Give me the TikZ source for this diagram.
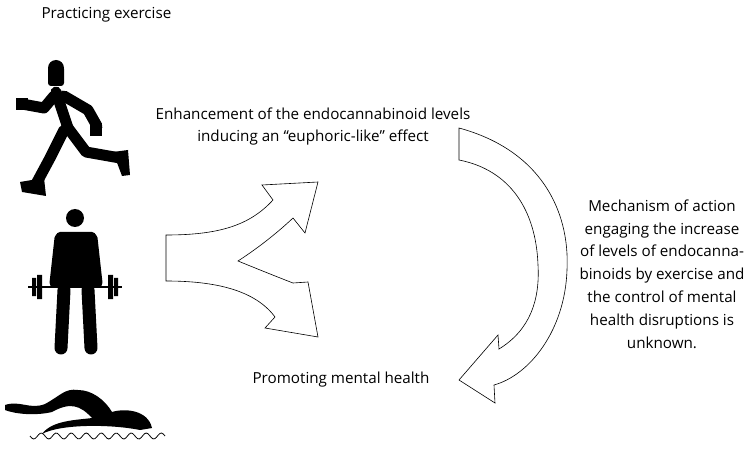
\documentclass[tikz,border=0pt]{standalone}
\usepackage{fontspec}
\setmainfont{Open Sans}
\begin{document}
\begin{tikzpicture}[x=1pt,y=-1pt,every node/.style={font=\fontsize{15.2}{22}\selectfont},
  limb/.style={line width=11pt,line cap=round,line join=round},
  bigarrow/.style={draw=black,line width=0.6pt,fill=white}]
\useasboundingbox (0,0) rectangle (750,449);
% texts
\node[anchor=west] (title) at (38,15) {Practicing exercise};
\node[align=center] (enh) at (313,127) {Enhancement of the endocannabinoid levels\\inducing an ``euphoric-like'' effect};
\node (prom) at (341,380) {Promoting mental health};
\node[align=center,font=\fontsize{15.2}{22.8}\selectfont] (mech) at (662,274) {Mechanism of action\\engaging the increase\\of levels of endocanna-\\binoids by exercise and\\the control of mental\\health disruptions is\\unknown.};
% runner
\fill[rounded corners=3pt] (48,66) rectangle (64,86);
\fill (56,68) circle (8);
\draw[limb] (56,92) -- (68,128);
\draw[limb] (54,96) -- (44,108) -- (22,104);
\fill (16,98) rectangle (28,110);
\draw[limb] (64,96) -- (88,110) -- (97,126);
\fill (90,124) rectangle (102,136);
\draw[limb] (68,128) -- (86,152) -- (120,158);
\fill (113,152) -- (128,150) -- (130,175) -- (122,176) -- cycle;
\draw[limb] (64,130) -- (50,158) -- (36,184);
\fill (20,182) -- (44,178) -- (46,196) -- (22,192) -- cycle;
% lifter
\fill (75,218) circle (9);
\fill[rounded corners=4pt] (56,232) rectangle (96,288);
\draw[limb,line width=9pt] (59,238) -- (54,283);
\draw[limb,line width=9pt] (93,238) -- (98,283);
\draw[limb,line width=13pt] (64,290) -- (61,348);
\draw[limb,line width=13pt] (88,290) -- (91,348);
\draw[line width=2pt] (28,287) -- (122,287);
\fill (32,278) rectangle (36,296) (37,275) rectangle (42,299);
\fill (114,278) rectangle (118,296) (108,275) rectangle (113,299);
% swimmer
\fill (5,405) .. controls (20,400) and (30,410) .. (45,404)
  .. controls (60,396) and (65,388) .. (78,390)
  .. controls (92,390) and (105,400) .. (112,412)
  .. controls (125,408) and (148,410) .. (152,428)
  -- (140,430) .. controls (110,424) and (60,424) .. (42,434)
  .. controls (52,420) and (78,420) .. (92,418)
  .. controls (80,405) and (70,402) .. (52,412)
  .. controls (35,416) and (15,414) .. (5,410) -- cycle;
\draw[line width=0.8pt,domain=30:165,samples=80,variable=\t] plot (\t,{436+3*sin(\t*24)});
% split arrow
\draw[bigarrow] (166,235) .. controls (220,235) and (250,225) .. (273,200)
  -- (262,185) -- (318,182) -- (305,233) -- (293,218)
  .. controls (275,235) and (255,250) .. (238,261)
  .. controls (255,268) and (280,278) .. (293,283)
  -- (308,282) -- (318,337) -- (265,328) -- (275,317)
  .. controls (255,290) and (215,281) .. (166,281) -- cycle;
% curved arrow
\draw[bigarrow] (459,128) .. controls (540,150) and (570,210) .. (567,270)
  .. controls (565,330) and (530,375) .. (494,385)
  -- (495,403) -- (459,380) -- (498,335) -- (499,349)
  .. controls (530,330) and (540,300) .. (538,265)
  .. controls (536,210) and (510,170) .. (459,160) -- cycle;
\end{tikzpicture}
\end{document}
